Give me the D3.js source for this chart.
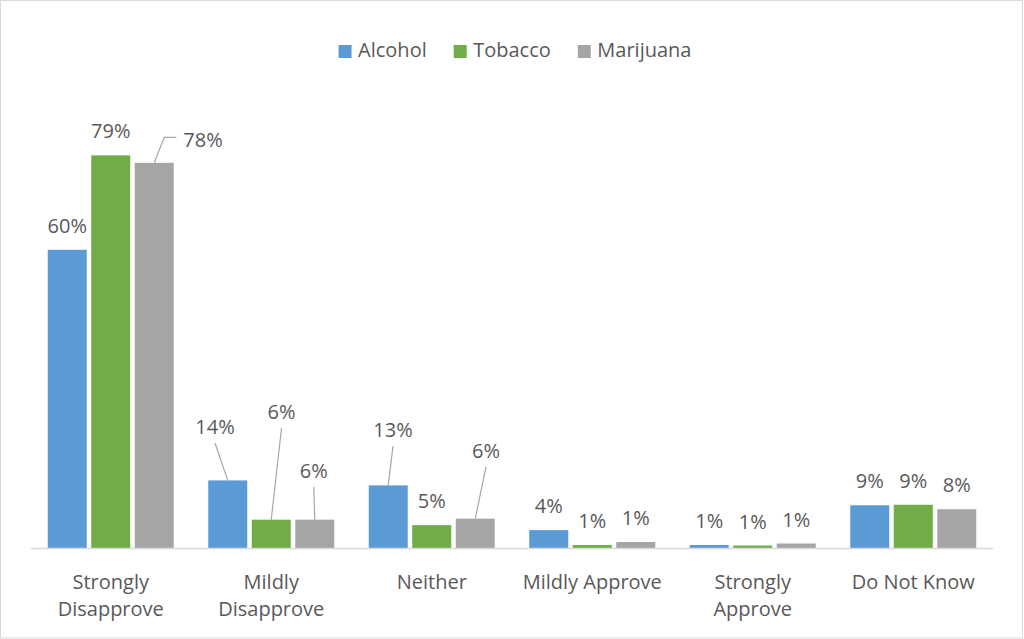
<!DOCTYPE html>
<html>
<head>
<meta charset="utf-8">
<script src="https://cdn.jsdelivr.net/npm/d3@7"></script>
<style>
  html, body { margin: 0; padding: 0; background: #fff; }
  svg { display: block; font-family: "Open Sans", sans-serif; }
</style>
</head>
<body>
<svg id="chart" width="1024" height="639"></svg>
<script>
// Survey answers: share of respondents for each substance (%)
const categories = [["Strongly", "Disapprove"], ["Mildly", "Disapprove"], ["Neither"], ["Mildly Approve"], ["Strongly", "Approve"], ["Do Not Know"]];
const seriesNames = ["Alcohol", "Tobacco", "Marijuana"];
const alcohol   = [60, 13.6, 12.6, 3.6, 0.6, 8.6];
const tobacco   = [79, 5.7, 4.6, 0.6, 0.5, 8.7];
const marijuana = [77.5, 5.7, 5.9, 1.2, 0.9, 7.8];
const yMax = 90;

const colors = { Alcohol: "#5B9BD5", Tobacco: "#70AD47", Marijuana: "#A5A5A5" };
const textColor = "#595959";

// Labels moved off their default spot, with a leader line back to the bar
// (dx: label centre from bar centre, dy: label baseline from bar top, in px)
const labelNudges = {
  "0|Marijuana": { dx: 48.75, dy: -15.8, side: true },
  "1|Alcohol":   { dx: -12.75, dy: -46.4 },
  "1|Tobacco":   { dx: 10.25, dy: -100.7 },
  "1|Marijuana": { dx: -1, dy: -41.7 },
  "2|Alcohol":   { dx: 4.75, dy: -48.4 },
  "2|Marijuana": { dx: 10.75, dy: -60.7 }
};

const seriesValues = { Alcohol: alcohol, Tobacco: tobacco, Marijuana: marijuana };
const rows = categories.map((c, i) => ({
  idx: i,
  label: c,
  values: seriesNames.map(s => ({ series: s, value: seriesValues[s][i], idx: i }))
}));

const svg = d3.select("#chart");
const W = 1024, H = 639;
const plot = { left: 30.5, right: 993.5, top: 100.7, bottom: 548 };

// chart frame
svg.append("rect")
  .attr("x", 0.5).attr("y", 0.5).attr("width", W - 2).attr("height", H - 1.5)
  .attr("fill", "#fff").attr("stroke", "#D9D9D9").attr("stroke-width", 1);

const x0 = d3.scaleBand().domain(d3.range(categories.length)).range([plot.left, plot.right]).padding(0);
const groupPad = 17.25;
const x1 = d3.scaleBand().domain(seriesNames)
  .range([groupPad, x0.bandwidth() - groupPad])
  .paddingInner(0.1034).paddingOuter(0);
const y = d3.scaleLinear().domain([0, yMax]).range([plot.bottom, plot.top]);

// bars
const groups = svg.append("g").selectAll("g").data(rows).join("g")
  .attr("transform", d => `translate(${x0(d.idx)},0)`);

groups.selectAll("rect").data(d => d.values).join("rect")
  .attr("x", d => x1(d.series))
  .attr("y", d => y(d.value))
  .attr("width", x1.bandwidth())
  .attr("height", d => y(0) - y(d.value))
  .attr("fill", d => colors[d.series]);

// category axis
const xAxis = svg.append("g").attr("transform", `translate(0,${plot.bottom + 0.5})`);
xAxis.append("line")
  .attr("x1", plot.left).attr("x2", plot.right)
  .attr("stroke", "#D9D9D9").attr("stroke-width", 1.5);

const catLabels = svg.append("g").selectAll("text").data(rows).join("text")
  .attr("x", d => x0(d.idx) + x0.bandwidth() / 2)
  .attr("y", 589)
  .attr("text-anchor", "middle")
  .attr("font-size", 20)
  .attr("fill", textColor);
catLabels.selectAll("tspan").data(d => d.label).join("tspan")
  .attr("x", function () { return d3.select(this.parentNode).attr("x"); })
  .attr("dy", (d, i) => i === 0 ? 0 : 26.5)
  .text(d => d);

// value labels and leader lines
const labelLayer = svg.append("g");
rows.forEach(r => {
  r.values.forEach(v => {
    const bx = x0(r.idx) + x1(v.series) + x1.bandwidth() / 2;
    const by = y(v.value);
    const txt = Math.round(v.value) + "%";
    const nudge = labelNudges[r.idx + "|" + v.series];
    if (!nudge) {
      labelLayer.append("text")
        .attr("x", bx).attr("y", by - 17)
        .attr("text-anchor", "middle").attr("font-size", 20).attr("fill", textColor)
        .text(txt);
      return;
    }
    const lx = bx + nudge.dx, lb = by + nudge.dy;
    const t = labelLayer.append("text")
      .attr("x", lx).attr("y", lb)
      .attr("text-anchor", "middle").attr("font-size", 20).attr("fill", textColor)
      .text(txt);
    let pts;
    if (nudge.side) {
      const left = lx - t.node().getComputedTextLength() / 2;
      const ly = lb - 9.7;
      pts = [[bx, by], [left - 19, ly], [left - 7, ly]];
    } else {
      pts = [[bx, by], [lx, lb + 9]];
    }
    labelLayer.append("path")
      .attr("d", d3.line()(pts))
      .attr("fill", "none").attr("stroke", "#A6A6A6").attr("stroke-width", 1.2);
  });
});

// legend
const legend = svg.append("g");
let cursor = 0;
const items = seriesNames.map(name => {
  const g = legend.append("g");
  g.append("rect").attr("x", 0).attr("y", 45).attr("width", 13).attr("height", 13).attr("fill", colors[name]);
  const t = g.append("text").attr("x", 19.5).attr("y", 57).attr("font-size", 20).attr("fill", textColor).text(name);
  const w = 19.5 + t.node().getComputedTextLength();
  g.attr("transform", `translate(${cursor},0)`);
  cursor += w + 27;
  return w;
});
const legendWidth = cursor - 27;
legend.attr("transform", `translate(${515 - legendWidth / 2},0)`);
</script>
</body>
</html>
